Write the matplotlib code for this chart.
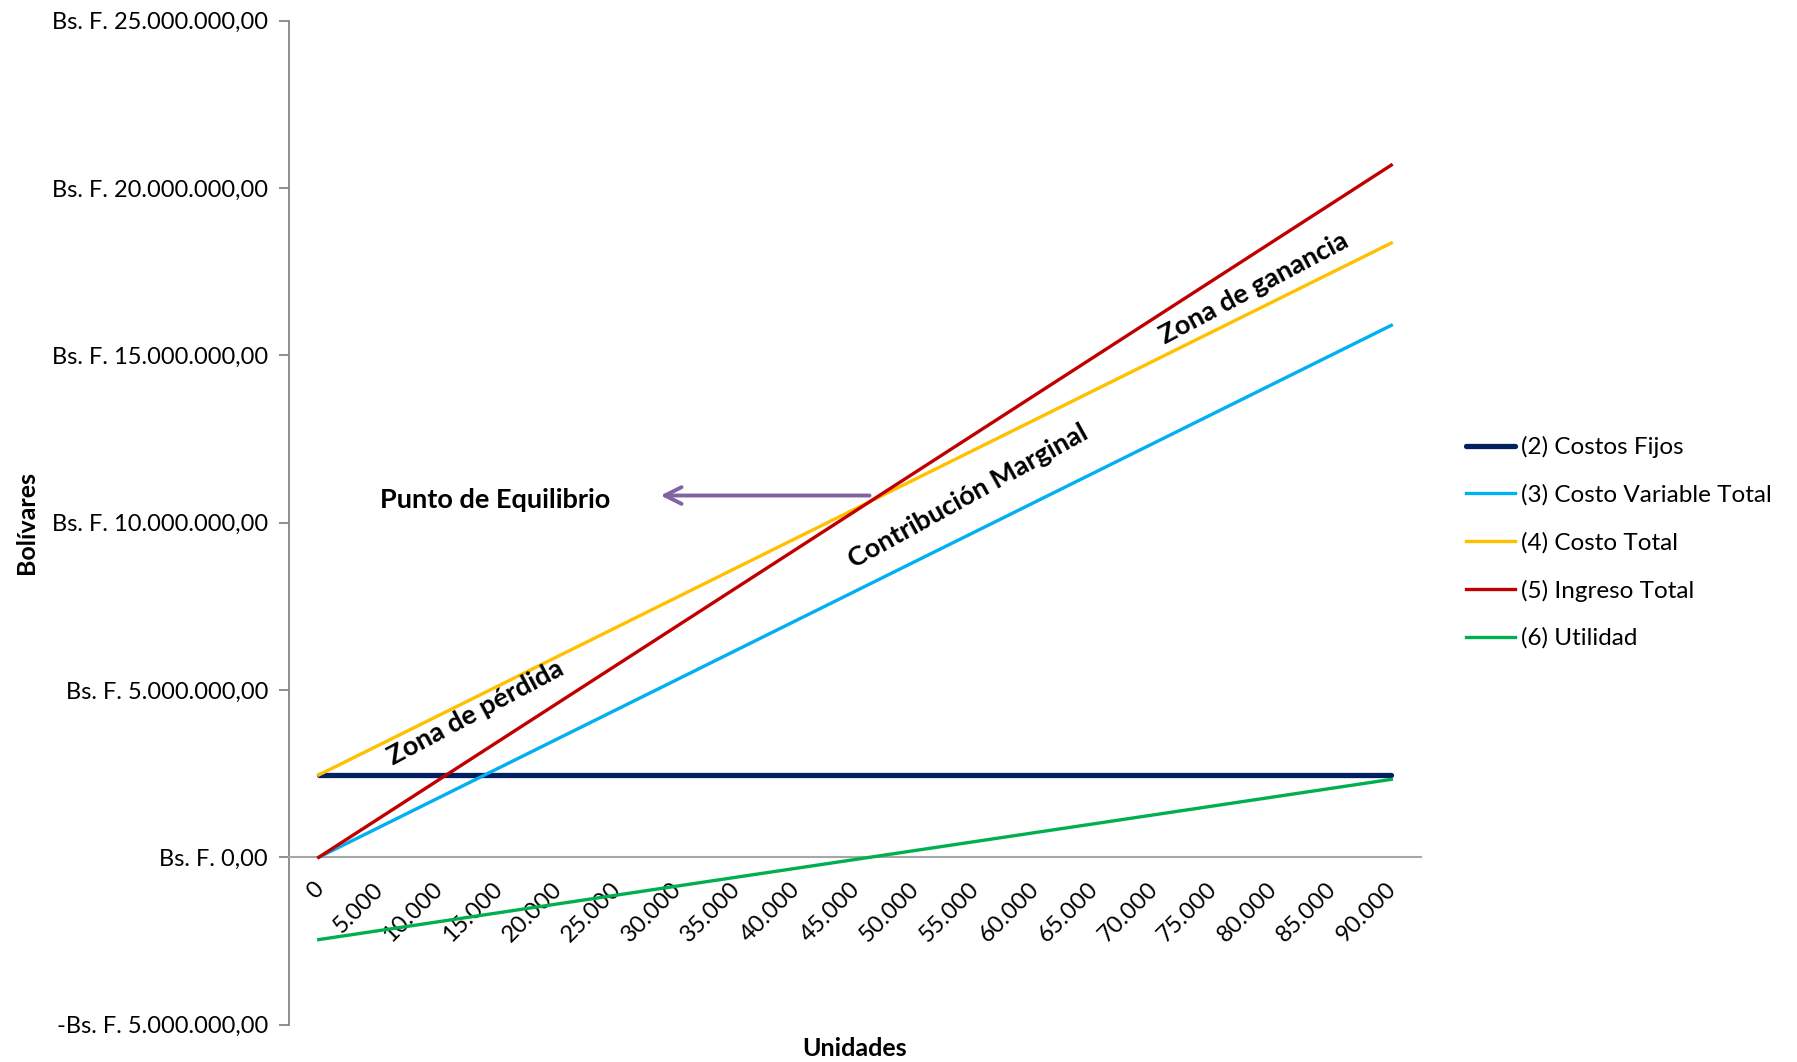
import matplotlib.pyplot as plt
import matplotlib.transforms as mtransforms
import numpy as np

plt.rcParams['font.family'] = ['Lato', 'DejaVu Sans']

# units per category
unidades = ["0", "5.000", "10.000", "15.000", "20.000", "25.000", "30.000", "35.000", "40.000",
            "45.000", "50.000", "55.000", "60.000", "65.000", "70.000", "75.000", "80.000",
            "85.000", "90.000"]

costos_fijos = [2460000] * 19
costo_variable = [0, 883000, 1766000, 2649000, 3532000, 4415000, 5298000, 6181000, 7064000,
                  7947000, 8830000, 9713000, 10596000, 11479000, 12362000, 13245000, 14128000,
                  15011000, 15894000]
costo_total = [2460000, 3343000, 4226000, 5109000, 5992000, 6875000, 7758000, 8641000, 9524000,
               10407000, 11290000, 12173000, 13056000, 13939000, 14822000, 15705000, 16588000,
               17471000, 18354000]
ingreso_total = [0, 1149000, 2298000, 3447000, 4596000, 5745000, 6894000, 8043000, 9192000,
                 10341000, 11490000, 12639000, 13788000, 14937000, 16086000, 17235000, 18384000,
                 19533000, 20682000]
utilidad = [-2460000, -2194000, -1928000, -1662000, -1396000, -1130000, -864000, -598000, -332000,
            -66000, 200000, 466000, 732000, 998000, 1264000, 1530000, 1796000, 2062000, 2328000]

y_ticks = [-5000000, 0, 5000000, 10000000, 15000000, 20000000, 25000000]
y_labels = ["-Bs. F. 5.000.000,00", "Bs. F. 0,00", "Bs. F. 5.000.000,00", "Bs. F. 10.000.000,00",
            "Bs. F. 15.000.000,00", "Bs. F. 20.000.000,00", "Bs. F. 25.000.000,00"]

fig = plt.figure(figsize=(17.97, 10.62), dpi=100)
ax = fig.add_axes([0.1608, 0.0352, 0.63, 0.9454])

# spine position first, it resets the ticks
for s in ["top", "right"]:
    ax.spines[s].set_visible(False)
ax.spines["bottom"].set_position(("data", 0))
ax.spines["bottom"].set_color("#A6A6A6")
ax.spines["bottom"].set_linewidth(1.5)
ax.spines["left"].set_color("#868686")
ax.spines["left"].set_linewidth(1.3)

x = np.arange(len(unidades))
ax.plot(x, costos_fijos, color="#002060", lw=3.8, solid_capstyle="round", label="(2) Costos Fijos", zorder=3)
ax.plot(x, costo_variable, color="#00B0F0", lw=2.4, label="(3) Costo Variable Total", zorder=3)
ax.plot(x, costo_total, color="#FFC000", lw=2.4, label="(4) Costo Total", zorder=3)
ax.plot(x, ingreso_total, color="#C00000", lw=2.4, label="(5) Ingreso Total", zorder=4)
ax.plot(x, utilidad, color="#00B050", lw=2.4, label="(6) Utilidad", zorder=3)

ax.set_xlim(-0.5, 18.5)
ax.set_ylim(-5000000, 25000000)
ax.set_yticks(y_ticks)
ax.set_yticklabels(y_labels, fontsize=17)
ax.set_xticks(x)
ax.set_xticklabels(unidades, fontsize=17, rotation=45, ha="right", va="top")
ax.tick_params(axis="y", length=7, width=1.3, color="#868686", pad=8)
ax.tick_params(axis="x", length=0, pad=14)

# nudge the rotated labels so their ends sit under the category
shift = mtransforms.ScaledTranslation(0.09, -0.02, fig.dpi_scale_trans)
for lbl in ax.get_xticklabels():
    lbl.set_transform(lbl.get_transform() + shift)

ax.set_ylabel("Bolívares", fontsize=18, fontweight="bold")
ax.set_xlabel("Unidades", fontsize=18, fontweight="bold")
ax.yaxis.set_label_coords(-0.222, 0.5)
ax.xaxis.set_label_coords(0.5, -0.012)

ax.text(2.96, 10680000, "Punto de Equilibrio", fontsize=19.5, fontweight="bold", ha="center", va="center")
ax.annotate("", xy=(5.69, 10810000), xytext=(9.29, 10810000),
            arrowprops=dict(arrowstyle="->", color="#8064A2", lw=2.8, mutation_scale=30))
ax.text(2.63, 4320000, "Zona de pérdida", fontsize=19.5, fontweight="bold", rotation=28,
        ha="center", va="center", rotation_mode="anchor")
ax.text(10.9, 10800000, "Contribución Marginal", fontsize=19.5, fontweight="bold", rotation=29,
        ha="center", va="center", rotation_mode="anchor")
ax.text(15.69, 17000000, "Zona de ganancia", fontsize=19.5, fontweight="bold", rotation=28,
        ha="center", va="center", rotation_mode="anchor")

leg = ax.legend(loc="center left", bbox_to_anchor=(1.02, 0.48), frameon=False, fontsize=17.5,
                handlelength=2.05, handletextpad=0.25, labelspacing=1.07)

fig.savefig("out.png", dpi=100)
